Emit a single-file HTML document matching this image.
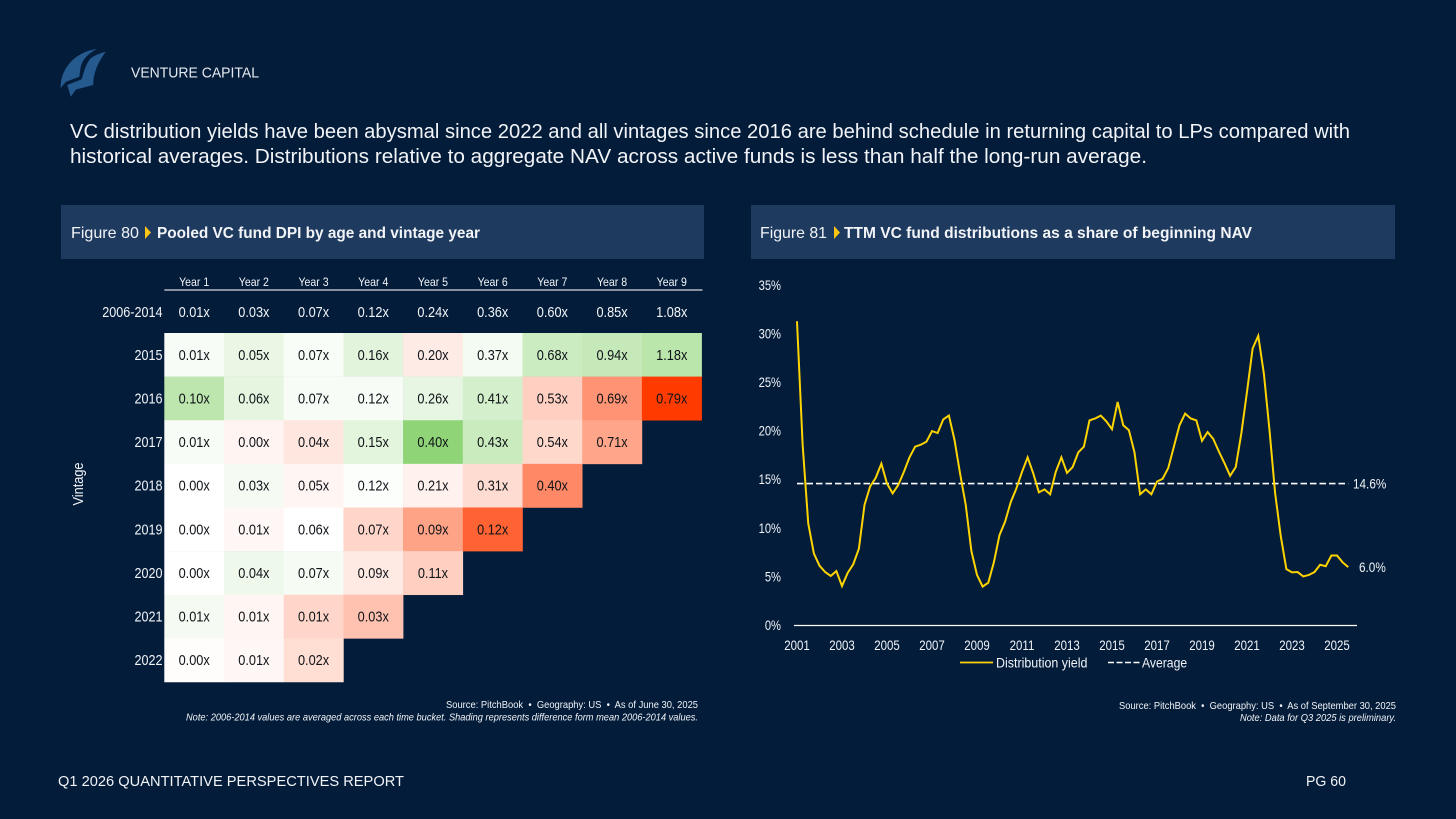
<!DOCTYPE html>
<html lang="en">
<head>
<meta charset="utf-8">
<title>VC distribution yields</title>
<style>
html,body{margin:0;padding:0;background:#031c3a;width:1456px;height:819px;overflow:hidden}
svg{display:block;fill:#f2f4f7}
text{font-family:"Liberation Sans",sans-serif}
</style>
</head>
<body>
<svg id="page" xmlns="http://www.w3.org/2000/svg" width="1456" height="819" viewBox="0 0 1456 819">
  <rect x="0" y="0" width="1456" height="819" fill="#031c3a"/>
  <g fill="#255a8f">
    <path d="M60.7 88 C60 70 74 52 96.7 49 C87 54 81.5 61 80.5 68 L79.3 76.7 L66 81.7 Z"/>
    <path d="M105.7 51.7 C97 54 92 57 90 59 C87 63 85.5 67 84.5 70 L81.7 79.3 L67.3 85 L70.7 96.7 L76 89.5 L93.3 85 C93 76 96 65 105.7 51.7 Z"/>
  </g>
  <text x="131" y="77.5" font-size="14.5" textLength="128" lengthAdjust="spacingAndGlyphs" fill="#e4e8ee">VENTURE CAPITAL</text>
  <text x="70" y="138" font-size="20" textLength="1280" lengthAdjust="spacingAndGlyphs">VC distribution yields have been abysmal since 2022 and all vintages since 2016 are behind schedule in returning capital to LPs compared with</text>
  <text x="70" y="163" font-size="20" textLength="1077" lengthAdjust="spacingAndGlyphs">historical averages. Distributions relative to aggregate NAV across active funds is less than half the long-run average.</text>

  <rect x="61" y="205" width="643" height="54" fill="#1e3a5f"/>
  <text x="71" y="238" font-size="16" textLength="68" lengthAdjust="spacingAndGlyphs">Figure 80</text>
  <path d="M145 226 L151 232.5 L145 239 Z" fill="#fdc514"/>
  <text x="157" y="238" font-size="16" font-weight="700" textLength="323" lengthAdjust="spacingAndGlyphs">Pooled VC fund DPI by age and vintage year</text>

  <rect x="751" y="205" width="644" height="54" fill="#1e3a5f"/>
  <text x="760" y="238" font-size="16" textLength="67" lengthAdjust="spacingAndGlyphs">Figure 81</text>
  <path d="M834 226 L840 232.5 L834 239 Z" fill="#fdc514"/>
  <text x="844" y="238" font-size="16" font-weight="700" textLength="408" lengthAdjust="spacingAndGlyphs">TTM VC fund distributions as a share of beginning NAV</text>

  <g id="heatmap"></g>
  <g id="linechart"></g>

  <text x="446" y="708" font-size="10.5" textLength="252" lengthAdjust="spacingAndGlyphs">Source: PitchBook &#160;•&#160; Geography: US &#160;•&#160; As of June 30, 2025</text>
  <text x="186" y="720.5" font-size="10.5" font-style="italic" textLength="512" lengthAdjust="spacingAndGlyphs">Note: 2006-2014 values are averaged across each time bucket. Shading represents difference form mean 2006-2014 values.</text>
  <text x="1119" y="709" font-size="10.5" textLength="277" lengthAdjust="spacingAndGlyphs">Source: PitchBook &#160;•&#160; Geography: US &#160;•&#160; As of September 30, 2025</text>
  <text x="1240" y="721" font-size="10.5" font-style="italic" textLength="156" lengthAdjust="spacingAndGlyphs">Note: Data for Q3 2025 is preliminary.</text>

  <text x="58" y="786" font-size="14.5" textLength="346" lengthAdjust="spacingAndGlyphs">Q1 2026 QUANTITATIVE PERSPECTIVES REPORT</text>
  <text x="1306" y="786" font-size="14.5" textLength="40" lengthAdjust="spacingAndGlyphs">PG 60</text>
</svg>
<script>
/* ---------- heatmap data ---------- */
var yearLabels = ["Year 1","Year 2","Year 3","Year 4","Year 5","Year 6","Year 7","Year 8","Year 9"];
var benchmarkLabel = "2006-2014";
var benchmarkDpi = [0.01,0.03,0.07,0.12,0.24,0.36,0.60,0.85,1.08];
var vintageLabels = ["2015","2016","2017","2018","2019","2020","2021","2022"];
var vintageDpi = [
  [0.01,0.05,0.07,0.16,0.20,0.37,0.68,0.94,1.18],
  [0.10,0.06,0.07,0.12,0.26,0.41,0.53,0.69,0.79],
  [0.01,0.00,0.04,0.15,0.40,0.43,0.54,0.71],
  [0.00,0.03,0.05,0.12,0.21,0.31,0.40],
  [0.00,0.01,0.06,0.07,0.09,0.12],
  [0.00,0.04,0.07,0.09,0.11],
  [0.01,0.01,0.01,0.03],
  [0.00,0.01,0.02]
];
var vintageShade = [
  [0.07,0.20,0.05,0.26,-0.10,0.10,0.46,0.52,0.62],
  [0.60,0.23,0.06,0.06,0.21,0.38,-0.24,-0.55,-1.00],
  [0.07,-0.055,-0.12,0.25,1.00,0.48,-0.20,-0.46],
  [0.00,0.09,-0.05,0.03,-0.07,-0.18,-0.60],
  [0.00,-0.04,0.00,-0.21,-0.47,-0.80],
  [0.00,0.15,0.08,-0.11,-0.24],
  [0.09,-0.05,-0.21,-0.31],
  [-0.01,-0.04,-0.17]
];

/* ---------- line chart data ---------- */
var startYear = 2001;
var distributionYield = [
  31.3,18.6,10.5,7.4,6.15,5.5,5.1,5.6,4.06,5.4,6.3,7.9,12.4,14.3,15.2,16.65,14.6,13.6,14.45,15.8,
  17.3,18.4,18.6,18.9,20.0,19.8,21.2,21.6,19.1,15.6,12.4,7.66,5.2,4.0,4.4,6.5,9.3,10.7,12.7,14.1,
  15.8,17.3,15.65,13.7,14.0,13.5,15.8,17.3,15.7,16.3,17.8,18.4,21.1,21.3,21.6,21.0,20.2,23.0,20.6,20.1,
  17.8,13.5,14.0,13.5,14.8,15.1,16.2,18.4,20.6,21.8,21.3,21.1,19.0,19.9,19.2,17.9,16.7,15.4,16.3,19.8,
  24.05,28.5,29.8,25.9,20.1,13.6,9.2,5.8,5.47,5.5,5.05,5.2,5.5,6.25,6.1,7.2,7.2,6.5,6.0
];
var averageYield = [14.6];
var yTicks = [0,5,10,15,20,25,30,35];
var xTicks = [2001,2003,2005,2007,2009,2011,2013,2015,2017,2019,2021,2023,2025];
var seriesNames = ["Distribution yield","Average"];

var NS = "http://www.w3.org/2000/svg";
function svgEl(parent, tag, attrs) {
  var el = document.createElementNS(NS, tag);
  for (var k in attrs) el.setAttribute(k, attrs[k]);
  parent.appendChild(el);
  return el;
}
function condensed(parent, x, y, str, size, squeeze, anchor, fill) {
  var el = svgEl(parent, "text", {
    transform: "translate(" + x + " " + y + ") scale(" + squeeze + " 1)",
    "font-size": size,
    "text-anchor": anchor,
    fill: fill
  });
  el.textContent = str;
  return el;
}

/* ---------- heatmap ---------- */
(function () {
  var g = document.getElementById("heatmap");
  var left = 164.3, colW = 59.7, top = 333, rowH = 43.62;
  function colX(c) { return left + colW * c; }
  function rowY(r) { return top + rowH * r; }
  function shadeColor(s) {
    var t = Math.min(1, Math.abs(s));
    var end = s >= 0 ? [143, 213, 120] : [255, 59, 0];
    return "rgb(" + end.map(function (e) { return Math.round(255 + (e - 255) * t); }).join(",") + ")";
  }
  yearLabels.forEach(function (label, c) {
    var t = condensed(g, colX(c) + colW / 2, 286, label, 12, 0.88, "middle", "#f2f4f7");
    
    
  });
  var rule = svgEl(g, "line", { x1: left, x2: 702.5, y1: 290, y2: 290, stroke: "#b4b7c4", "stroke-width": 1.4 });
  
  

  var bl = condensed(g, 162.5, 317, benchmarkLabel, 15, 0.84, "end", "#f2f4f7");
  
  
  benchmarkDpi.forEach(function (v, c) {
    var t = condensed(g, colX(c) + colW / 2, 317, v.toFixed(2) + "x", 15, 0.85, "middle", "#f2f4f7");
    
    
  });

  vintageLabels.forEach(function (label, r) {
    var cy = rowY(r) + rowH / 2;
    var rl = condensed(g, 162.5, cy + 5, label, 15, 0.84, "end", "#f2f4f7");
    
    
    vintageDpi[r].forEach(function (v, c) {
      var cell = svgEl(g, "rect", {
        x: colX(c), y: rowY(r), width: colW + 0.3, height: rowH + 0.3,
        fill: shadeColor(vintageShade[r][c])
      });
      
      
      var t = condensed(g, colX(c) + colW / 2, cy + 5, v.toFixed(2) + "x", 15, 0.85, "middle", "#101418");
      
      
    });
  });

  var vt = svgEl(g, "text", { transform: "translate(83 484) rotate(-90) scale(0.85 1)", "font-size": 15, "text-anchor": "middle", fill: "#f2f4f7" });
  vt.textContent = "Vintage";
  
  
})();

/* ---------- line chart ---------- */
(function () {
  var g = document.getElementById("linechart");
  function xScale(year) { return 797 + (year - 2001) * 22.5; }
  function yScale(v) { return 625.5 - v * 9.72; }
  var yellow = "#fdd400";

  yTicks.forEach(function (v) {
    var t = condensed(g, 781, yScale(v) + 4.5, v + "%", 14, 0.8, "end", "#f2f4f7");
    
    
  });
  xTicks.forEach(function (yr) {
    var t = condensed(g, xScale(yr), 650, String(yr), 14, 0.82, "middle", "#f2f4f7");
    
    
  });
  var axis = svgEl(g, "line", { x1: 794, x2: 1357, y1: yScale(0), y2: yScale(0), stroke: "#ffffff", "stroke-width": 1.2 });
  
  

  var lastYear = startYear + (distributionYield.length - 1) / 4;
  var avg = svgEl(g, "line", {
    x1: xScale(startYear), x2: xScale(lastYear),
    y1: yScale(averageYield[0]), y2: yScale(averageYield[0]),
    stroke: "#ffffff", "stroke-width": 1.6, "stroke-dasharray": "6.5 3"
  });
  
  

  var pts = distributionYield.map(function (v, i) {
    return xScale(startYear + i / 4).toFixed(2) + "," + yScale(v).toFixed(2);
  }).join(" ");
  var line = svgEl(g, "polyline", { points: pts, fill: "none", stroke: yellow, "stroke-width": 2, "stroke-linejoin": "miter" });
  
  

  var al = condensed(g, 1353, yScale(averageYield[0]) + 5, averageYield[0].toFixed(1) + "%", 14, 0.84, "start", "#f2f4f7");
  
  
  var lastVal = distributionYield[distributionYield.length - 1];
  var ll = condensed(g, 1359, yScale(lastVal) + 5, lastVal.toFixed(1) + "%", 14, 0.84, "start", "#f2f4f7");
  
  

  var k1 = svgEl(g, "line", { x1: 960, x2: 993, y1: 662.5, y2: 662.5, stroke: yellow, "stroke-width": 1.8 });
  
  
  var t1 = condensed(g, 996, 667.5, seriesNames[0], 14, 0.89, "start", "#f2f4f7");
  
  
  var k2 = svgEl(g, "line", { x1: 1108, x2: 1140, y1: 662.5, y2: 662.5, stroke: "#ffffff", "stroke-width": 1.6, "stroke-dasharray": "6 2.5" });
  
  
  var t2 = condensed(g, 1142, 667.5, seriesNames[1], 14, 0.87, "start", "#f2f4f7");
  
  
})();
</script>
</body>
</html>
